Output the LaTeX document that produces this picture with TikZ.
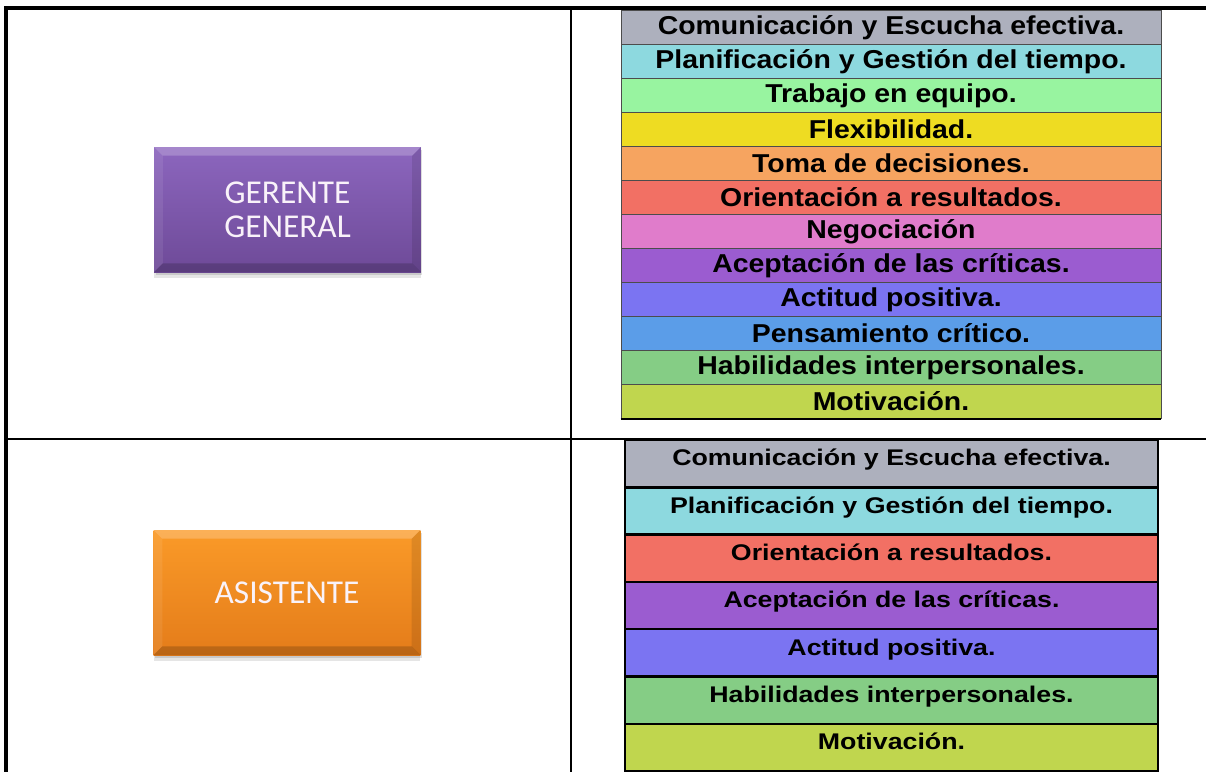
\documentclass[tikz,border=0pt]{standalone}
\usepackage{fontspec}
\setmainfont{Liberation Sans}
\newfontfamily\upperfont{Liberation Sans}[FakeStretch=1.1]
\newfontfamily\lowerfont{Liberation Sans}[FakeStretch=1.18]
\newfontfamily\boxfont{Carlito}

\definecolor{cGray}{HTML}{ADB0BD}
\definecolor{cCyan}{HTML}{8DD9DF}
\definecolor{cMint}{HTML}{98F4A0}
\definecolor{cYellow}{HTML}{EEDC22}
\definecolor{cSand}{HTML}{F6A460}
\definecolor{cSalmon}{HTML}{F27064}
\definecolor{cPink}{HTML}{E07CCB}
\definecolor{cPurple}{HTML}{9B5CD0}
\definecolor{cViolet}{HTML}{7B74F2}
\definecolor{cBlue}{HTML}{5B9DE8}
\definecolor{cGreen}{HTML}{85CD85}
\definecolor{cLime}{HTML}{C0D64E}
\definecolor{gerTop}{HTML}{8C66BE}
\definecolor{gerBot}{HTML}{6E4A98}
\definecolor{asiTop}{HTML}{FA9A28}
\definecolor{asiBot}{HTML}{E47C1A}

\tikzset{
  compA/.style={draw=black!70, line width=0.6pt, minimum width=405pt,
    minimum height=25.5pt, inner sep=0pt,
    font=\upperfont\bfseries\fontsize{19.4}{20}\selectfont},
  compB/.style={draw=black, line width=1.9pt, minimum width=400pt,
    minimum height=35.5pt, inner sep=0pt, text height=19.4pt, text depth=16.1pt,
    font=\lowerfont\bfseries\fontsize{17}{18}\selectfont},
  rolebox/.style={minimum width=200pt, minimum height=93.75pt, inner sep=0pt,
    align=center, text=white!95!violet,
    font=\boxfont\fontsize{25}{25.5}\selectfont,
    preaction={fill=black, opacity=0.10, transform canvas={yshift=-4.5pt}},
    preaction={fill=black, opacity=0.12, transform canvas={xshift=1pt, yshift=-2.5pt}}},
  tableline/.style={line width=1.5pt}
}

\begin{document}
\begin{tikzpicture}[x=0.75pt, y=-0.75pt]
  \clip (0,0) rectangle (1206,772);

  % left column: roles
  \node[rolebox, top color=gerTop, bottom color=gerBot] (gerente) at (287.5,209.5) {GERENTE\\GENERAL};
  \fill[white, opacity=.22] (gerente.north west) -- (gerente.north east) -- ([shift={(-9,9)}]gerente.north east) -- ([shift={(9,9)}]gerente.north west) -- cycle;
  \fill[white, opacity=.08] (gerente.north west) -- ([shift={(9,9)}]gerente.north west) -- ([shift={(9,-9)}]gerente.south west) -- (gerente.south west) -- cycle;
  \fill[black, opacity=.10] (gerente.north east) -- ([shift={(-9,9)}]gerente.north east) -- ([shift={(-9,-9)}]gerente.south east) -- (gerente.south east) -- cycle;
  \fill[black, opacity=.18] (gerente.south west) -- (gerente.south east) -- ([shift={(-9,-9)}]gerente.south east) -- ([shift={(9,-9)}]gerente.south west) -- cycle;

  \node[rolebox, top color=asiTop, bottom color=asiBot] (asistente) at (287,592.5) {ASISTENTE};
  \fill[white, opacity=.22] (asistente.north west) -- (asistente.north east) -- ([shift={(-9,9)}]asistente.north east) -- ([shift={(9,9)}]asistente.north west) -- cycle;
  \fill[white, opacity=.08] (asistente.north west) -- ([shift={(9,9)}]asistente.north west) -- ([shift={(9,-9)}]asistente.south west) -- (asistente.south west) -- cycle;
  \fill[black, opacity=.10] (asistente.north east) -- ([shift={(-9,9)}]asistente.north east) -- ([shift={(-9,-9)}]asistente.south east) -- (asistente.south east) -- cycle;
  \fill[black, opacity=.18] (asistente.south west) -- (asistente.south east) -- ([shift={(-9,-9)}]asistente.south east) -- ([shift={(9,-9)}]asistente.south west) -- cycle;

  % right column: competencias
  \draw
    (891,27.5) node[compA, fill=cGray] (g1){Comunicación y Escucha efectiva.}
    (891,61.5) node[compA, fill=cCyan] (g2){Planificación y Gestión del tiempo.}
    (891,95.5) node[compA, fill=cMint] (g3){Trabajo en equipo.}
    (891,129.5) node[compA, fill=cYellow] (g4){Flexibilidad.}
    (891,163.5) node[compA, fill=cSand] (g5){Toma de decisiones.}
    (891,197.5) node[compA, fill=cSalmon] (g6){Orientación a resultados.}
    (891,231.5) node[compA, fill=cPink] (g7){Negociación}
    (891,265.5) node[compA, fill=cPurple] (g8){Aceptación de las críticas.}
    (891,299.5) node[compA, fill=cViolet] (g9){Actitud positiva.}
    (891,333.5) node[compA, fill=cBlue] (g10){Pensamiento crítico.}
    (891,367.5) node[compA, fill=cGreen] (g11){Habilidades interpersonales.}
    (891,401.5) node[compA, fill=cLime] (g12){Motivación.};
  \draw[black, line width=1.5pt] (g12.south west) -- (g12.south east);

  \draw
    (891.5,463.65) node[compB, fill=cGray] (a1){Comunicación y Escucha efectiva.}
    (891.5,510.95) node[compB, fill=cCyan] (a2){Planificación y Gestión del tiempo.}
    (891.5,558.25) node[compB, fill=cSalmon] (a3){Orientación a resultados.}
    (891.5,605.55) node[compB, fill=cPurple] (a4){Aceptación de las críticas.}
    (891.5,652.85) node[compB, fill=cViolet] (a5){Actitud positiva.}
    (891.5,700.15) node[compB, fill=cGreen] (a6){Habilidades interpersonales.}
    (891.5,747.45) node[compB, fill=cLime] (a7){Motivación.};

  % table frame
  \draw[tableline] (571,8) -- (571,772);
  \draw[tableline] (6,438.5) -- (1206,438.5);
  \draw[line width=3pt] (1206,8) -- (6,8) -- (6,772);
\end{tikzpicture}
\end{document}
